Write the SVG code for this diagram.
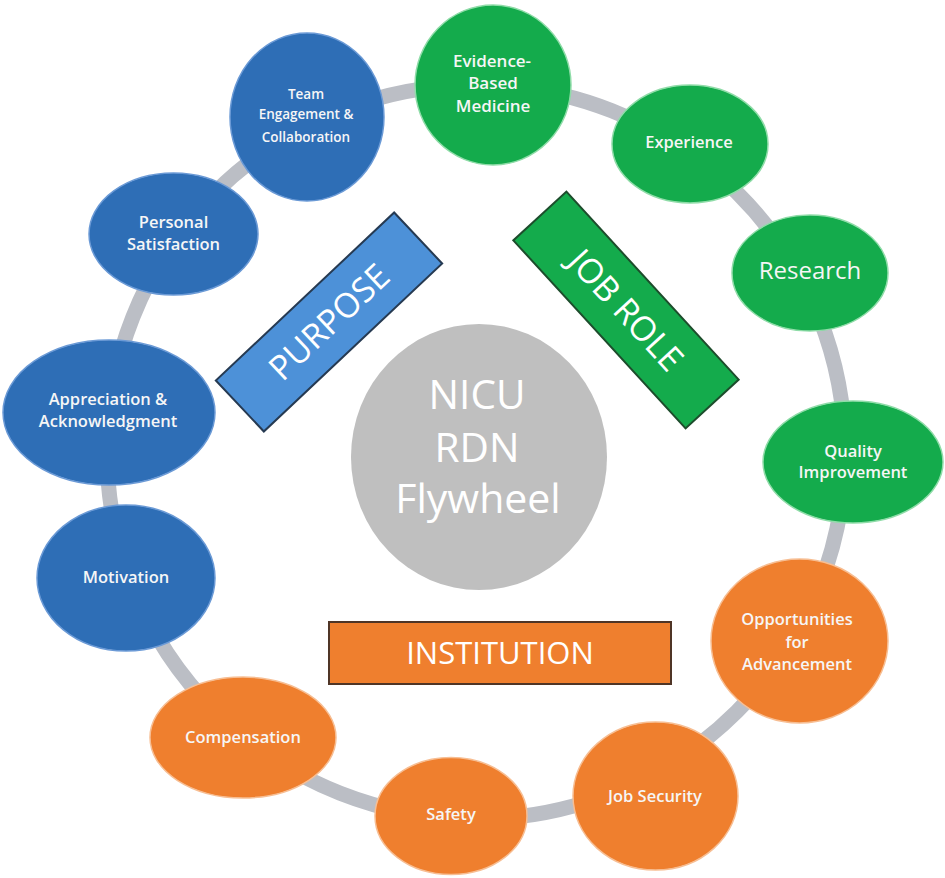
<svg xmlns="http://www.w3.org/2000/svg" width="945" height="878" viewBox="0 0 945 878">
<style>
.lbl{font-family:"Open Sans","Liberation Sans",sans-serif;font-weight:600;fill:#f6f6f6;text-anchor:middle}
.blue{fill:#2e6eb6;stroke:#6b9ad6;stroke-width:1.5}
.green{fill:#14ab4c;stroke:#8fdca8;stroke-width:1.5}
.orange{fill:#ef7f2e;stroke:#f7be93;stroke-width:1.5}
.ring{fill:none;stroke:#bbbec5;stroke-width:15}
.banner{font-family:"Open Sans","Liberation Sans",sans-serif;font-weight:400;fill:#ffffff;text-anchor:middle}
</style>
<rect width="945" height="878" fill="#ffffff"/>
<g id="connectors">
<ellipse class="ring" cx="476" cy="452" rx="369" ry="367"/>
</g>
<g id="center">
<ellipse cx="479" cy="457" rx="128" ry="133" fill="#bfbfbf"/>
<text class="banner" x="477" y="409" font-size="40.5">NICU</text>
<text class="banner" x="477" y="462" font-size="40.5">RDN</text>
<text class="banner" x="478" y="513" font-size="41">Flywheel</text>
</g>
<g id="purpose" transform="translate(329,322) rotate(-43.3)">
<rect x="-122.5" y="-35" width="245" height="70" fill="#4d91d8" stroke="#263a52" stroke-width="2"/>
<text class="banner" x="0" y="12" font-size="34">PURPOSE</text>
</g>
<g id="jobrole" transform="translate(626,310) rotate(47.5)">
<rect x="-127.5" y="-36" width="255" height="72" fill="#14ab4c" stroke="#1d4d2c" stroke-width="2"/>
<text class="banner" x="0" y="12" font-size="34">JOB ROLE</text>
</g>
<g id="institution">
<rect x="329" y="622" width="342" height="62" fill="#ef7f2e" stroke="#4f3526" stroke-width="2"/>
<text class="banner" x="500" y="664" font-size="31">INSTITUTION</text>
</g>
<g id="team">
<ellipse class="blue" cx="307" cy="117" rx="77" ry="84"/>
<text class="lbl" font-size="13.5"><tspan x="306" y="99">Team</tspan><tspan x="306" y="119">Engagement &amp;</tspan><tspan x="306" y="142">Collaboration</tspan></text>
</g>
<g id="evidence">
<ellipse class="green" cx="493" cy="85" rx="78" ry="80"/>
<text class="lbl" font-size="17"><tspan x="492" y="67">Evidence-</tspan><tspan x="493" y="89">Based</tspan><tspan x="493" y="112">Medicine</tspan></text>
</g>
<g id="experience">
<ellipse class="green" cx="690" cy="144" rx="78" ry="59"/>
<text class="lbl" font-size="16.5" x="689" y="148">Experience</text>
</g>
<g id="research">
<ellipse class="green" cx="810" cy="273" rx="78" ry="58"/>
<text class="lbl" font-size="24" style="font-weight:400" x="810" y="279">Research</text>
</g>
<g id="quality">
<ellipse class="green" cx="853" cy="462" rx="90" ry="61"/>
<text class="lbl" font-size="16.5"><tspan x="853" y="457">Quality</tspan><tspan x="853" y="478">Improvement</tspan></text>
</g>
<g id="opportunities">
<ellipse class="orange" cx="799.5" cy="641" rx="88.5" ry="82"/>
<text class="lbl" font-size="16.5"><tspan x="797" y="625">Opportunities</tspan><tspan x="797" y="648">for</tspan><tspan x="797" y="670">Advancement</tspan></text>
</g>
<g id="jobsecurity">
<ellipse class="orange" cx="655.5" cy="796" rx="82.5" ry="74"/>
<text class="lbl" font-size="16.5" x="655" y="802">Job Security</text>
</g>
<g id="safety">
<ellipse class="orange" cx="451" cy="816" rx="76" ry="58.5"/>
<text class="lbl" font-size="16.5" x="451" y="820">Safety</text>
</g>
<g id="compensation">
<ellipse class="orange" cx="243" cy="737.5" rx="93" ry="60.5"/>
<text class="lbl" font-size="16.5" x="243" y="743">Compensation</text>
</g>
<g id="motivation">
<ellipse class="blue" cx="126" cy="578" rx="89" ry="73"/>
<text class="lbl" font-size="16.5" x="126" y="583">Motivation</text>
</g>
<g id="appreciation">
<ellipse class="blue" cx="109" cy="412.5" rx="106" ry="72.5"/>
<text class="lbl" font-size="16.5"><tspan x="108" y="405">Appreciation &amp;</tspan><tspan x="108" y="427">Acknowledgment</tspan></text>
</g>
<g id="personal">
<ellipse class="blue" cx="173.5" cy="234" rx="84.5" ry="61"/>
<text class="lbl" font-size="16.5"><tspan x="173.5" y="228">Personal</tspan><tspan x="173.5" y="250">Satisfaction</tspan></text>
</g>
</svg>
